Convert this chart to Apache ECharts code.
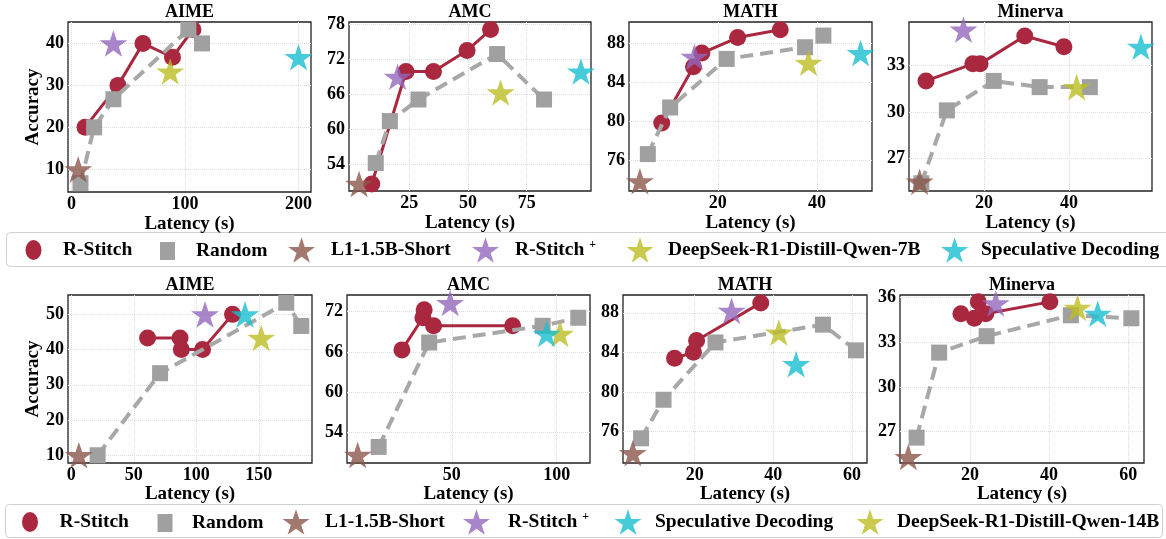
<!DOCTYPE html>
<html><head><meta charset="utf-8">
<script src="https://cdn.jsdelivr.net/npm/echarts@6/dist/echarts.min.js"></script>
<style>html,body{margin:0;padding:0;background:#fff}#c{width:1166px;height:539px}</style>
</head><body><div id="c"></div><script>
// ---------- DATA ----------
const panelTitles = ['AIME', 'AMC', 'MATH', 'Minerva', 'AIME', 'AMC', 'MATH', 'Minerva'];

// R-Stitch (latency, accuracy)
const rstitch = [
  [[12,20],[41,30],[63,40],[89,36.7],[107,43.3]],
  [[9,50.6],[23.6,69.9],[35.3,69.9],[49.6,73.5],[59.6,77.1]],
  [[8.7,79.8],[15.1,85.6],[16.8,87.0],[24.0,88.6],[32.6,89.4]],
  [[6.4,32.0],[17.4,33.1],[19.1,33.1],[29.6,34.9],[38.8,34.2]],
  [[61,43.3],[87,43.3],[88,40],[105,40],[129,50]],
  [[26.2,66.3],[36.2,71.1],[36.8,72.3],[41.3,69.9],[79,69.9]],
  [[14.9,83.4],[19.7,84.0],[20.5,85.2],[36.8,89.0]],
  [[17.7,34.9],[21.1,34.6],[22.1,35.7],[24.0,34.9],[40.2,35.7]]
];
// Random
const randomPts = [
  [[8,6.7],[20,20],[37,26.7],[103,43.3],[115,40]],
  [[10.7,54.2],[16.7,61.4],[28.9,65.1],[62.4,72.9],[82.4,65.1]],
  [[5.9,76.6],[10.4,81.4],[21.8,86.4],[37.6,87.6],[41.3,88.8]],
  [[5.3,25.4],[11.3,30.1],[22.3,32.0],[33.1,31.6],[44.9,31.6]],
  [[21,10],[71,33.3],[172,53.3],[184,46.7]],
  [[15.1,51.8],[39.2,67.4],[93.3,69.9],[110.3,71.1]],
  [[6.4,75.3],[12.1,79.2],[25.3,85.0],[52.6,86.8],[61.0,84.2]],
  [[6.5,26.6],[12.2,32.3],[24.2,33.4],[45.5,34.8],[60.8,34.6]]
];
const l1Short = [[6,10],[3.6,50.6],[4.3,73.8],[4.9,25.5],[6,10],[5.1,50.6],[4.3,73.8],[4.4,25.3]];
const rstitchPlus = [[37,40],[20,69.0],[15.3,86.6],[15.2,35.3],[107,50],[49.2,73.3],[29.4,88.2],[26.5,35.6]];
const deepseek = [[87,33.3],[63.9,66.3],[38.3,86.0],[41.8,31.6],[152,43.3],[101.6,68.7],[41.4,86.0],[47.2,35.3]];
const specDec = [[200,36.7],[98.1,69.9],[48.8,87.0],[56.9,34.2],[139,50],[95.2,68.7],[45.8,82.8],[52.3,34.9]];

// tick labels
const xTicks = [[0,100,200],[25,50,75],[20,40],[20,40],[0,50,100,150],[50,100],[20,40,60],[20,40,60]];
const yTicks = [[10,20,30,40],[54,60,66,72,78],[76,80,84,88],[27,30,33],[10,20,30,40,50],[54,60,66,72],[76,80,84,88],[27,30,33,36]];
const xRange = [[-3,211],[-0.7,102.4],[2.1,51.1],[2.4,59.5],[-2.7,192.6],[0,115.9],[1.8,63.8],[2.3,64]];
const yRange = [[4.6,45.1],[49.4,78.4],[72.8,90.2],[24.9,35.8],[7.8,55.5],[49.4,74.5],[72.8,89.8],[24.9,36.16]];

const legendTop = ['R-Stitch','Random','L1-1.5B-Short','R-Stitch+','DeepSeek-R1-Distill-Qwen-7B','Speculative Decoding'];
const legendBottom = ['R-Stitch','Random','L1-1.5B-Short','R-Stitch+','Speculative Decoding','DeepSeek-R1-Distill-Qwen-14B'];

// ---------- STYLE / LAYOUT ----------
const FONT = 'Liberation Serif';
const RED = '#a9283f', GRAY = '#a0a0a0', BROWN = '#8c564b', PURPLE = '#9467bd', OLIVE = '#bcbd22', CYAN = '#17becf';
const grids = [
  {left:68, top:22, width:243, height:170},
  {left:349, top:22, width:242, height:169},
  {left:629, top:22, width:243, height:169},
  {left:909, top:22, width:243, height:169},
  {left:68, top:295, width:244, height:168},
  {left:347, top:295, width:243, height:168},
  {left:623, top:295, width:244, height:168},
  {left:900, top:295, width:244, height:168}
];
// legend icon centres (x) and text starts for each row, and row centre (y)
const legendTopX = [33.5, 167.5, 301.6, 485.5, 640, 954.6];
const legendTopText = [63, 196, 331, 515, 668, 981];
const legendBottomX = [30, 165, 296, 476.5, 628, 870];
const legendBottomText = [59.6, 192, 325, 508, 655, 897];
const legendTopY = 250, legendBottomY = 522;

function starPath() {
  const pts = [];
  for (let i = 0; i < 10; i++) {
    const r = (i % 2) ? 0.382 : 1;
    const a = -Math.PI / 2 + i * Math.PI / 5;
    pts.push([(r * Math.cos(a) + 1) * 50, (r * Math.sin(a) + 1) * 50]);
  }
  return 'path://M' + pts.map(p => p[0].toFixed(2) + ',' + p[1].toFixed(2)).join(' L') + ' Z';
}
const STAR = starPath();
const ELLIPSE = 'path://M8,0 A8,10 0 1,1 8,20 A8,10 0 1,1 8,0 Z';
const RECT = 'path://M0,0 L15,0 L15,18 L0,18 Z';

const iconFor = {
  'R-Stitch': [ELLIPSE, 16, 20], 'Random': [RECT, 15, 18],
  'L1-1.5B-Short': [STAR, 27, 25.7], 'R-Stitch+': [STAR, 27, 25.7],
  'DeepSeek-R1-Distill-Qwen-7B': [STAR, 27, 25.7], 'DeepSeek-R1-Distill-Qwen-14B': [STAR, 27, 25.7],
  'Speculative Decoding': [STAR, 27, 25.7]
};

const grid = [], xAxis = [], yAxis = [], series = [], title = [];
for (let i = 0; i < 8; i++) {
  const g = grids[i];
  grid.push(Object.assign({show:true, borderColor:'#222', borderWidth:1.3, backgroundColor:'#fff', containLabel:false}, g));
  const top = i < 4;
  xAxis.push({
    type:'value', gridIndex:i, min:xRange[i][0], max:xRange[i][1],
    axisLine:{show:false}, axisTick:{show:false, customValues:xTicks[i]},
    axisLabel:{customValues:xTicks[i], margin:3, fontFamily:FONT, fontWeight:'bold', fontSize:18, color:'#000'},
    splitLine:{show:true, lineStyle:{color:'#dcdcdc', type:'dotted', width:1}},
    name:'Latency (s)', nameLocation:'middle', nameGap:top ? 23 : 22,
    nameTextStyle:{fontFamily:FONT, fontWeight:'bold', fontSize:19, color:'#000'}
  });
  yAxis.push({
    type:'value', gridIndex:i, min:yRange[i][0], max:yRange[i][1],
    axisLine:{show:false}, axisTick:{show:false, customValues:yTicks[i]},
    axisLabel:{customValues:yTicks[i], margin:4, fontFamily:FONT, fontWeight:'bold', fontSize:18, color:'#000'},
    splitLine:{show:true, lineStyle:{color:'#dcdcdc', type:'dotted', width:1}},
    name:(i === 0 || i === 4) ? 'Accuracy' : '', nameLocation:'middle', nameGap:top ? 23 : 21, nameRotate:90,
    nameTextStyle:{fontFamily:FONT, fontWeight:'bold', fontSize:19, color:'#000'}
  });
  title.push({
    text:panelTitles[i], left:g.left + g.width / 2, top:top ? 3 : 276, textAlign:'center', padding:0,
    textStyle:{fontFamily:FONT, fontWeight:'bold', fontSize:18, color:'#000'}
  });
  series.push({
    name:'R-Stitch', type:'line', xAxisIndex:i, yAxisIndex:i, data:rstitch[i],
    symbol:'circle', symbolSize:17, itemStyle:{color:RED}, lineStyle:{color:RED, width:3}, z:2
  });
  series.push({
    name:'Random', type:'line', xAxisIndex:i, yAxisIndex:i, data:randomPts[i],
    symbol:'rect', symbolSize:16, itemStyle:{color:GRAY}, lineStyle:{color:'#a8a8a8', width:4, type:[13,7]}, z:3
  });
  const starSeries = (name, color, d) => ({
    name, type:'scatter', xAxisIndex:i, yAxisIndex:i, data:[d], symbol:STAR, symbolKeepAspect:true,
    symbolSize:28, itemStyle:{color}, z:4, clip:false
  });
  series.push(starSeries('L1-1.5B-Short', BROWN, l1Short[i]));
  series.push(starSeries('R-Stitch+', PURPLE, rstitchPlus[i]));
  series.push(starSeries(top ? 'DeepSeek-R1-Distill-Qwen-7B' : 'DeepSeek-R1-Distill-Qwen-14B', OLIVE, deepseek[i]));
  series.push(starSeries('Speculative Decoding', CYAN, specDec[i]));
}

const legend = [];
function addLegendRow(names, xs, txs, cy) {
  names.forEach((n, k) => {
    const [icon, w, h] = iconFor[n];
    const left = xs[k] - w / 2;
    const gap = Math.max(0, txs[k] - (left + w + 5));
    legend.push({
      data:[{name:n, icon}], left, top:cy - h / 2, orient:'horizontal',
      itemWidth:w, itemHeight:h, padding:0, selectedMode:false,
      textStyle:{
        fontFamily:FONT, fontWeight:'bold', fontSize:19.5, color:'#000',
        rich:{
          g:{width:gap, fontSize:19.5},
          t:{fontFamily:FONT, fontWeight:'bold', fontSize:19.5, color:'#000'},
          sup:{fontFamily:FONT, fontWeight:'bold', fontSize:12, color:'#000', verticalAlign:'top', padding:[0,0,10,0]}
        }
      },
      formatter:nm => nm === 'R-Stitch+' ? '{g| }{t|R-Stitch }{sup|+}' : '{g| }{t|' + nm + '}'
    });
  });
}
addLegendRow(legendTop, legendTopX, legendTopText, legendTopY);
addLegendRow(legendBottom, legendBottomX, legendBottomText, legendBottomY);

const chart = echarts.init(document.getElementById('c'), null, {renderer:'canvas'});
chart.setOption({
  animation:false, backgroundColor:'#fff',
  title, grid, xAxis, yAxis, series, legend,
  graphic:[
    {type:'rect', shape:{x:6.5, y:232.5, width:1175, height:34, r:4}, style:{fill:'#fff', stroke:'#d0d0d0', lineWidth:1}, z:-10},
    {type:'rect', shape:{x:5.5, y:504.5, width:1157, height:33, r:4}, style:{fill:'#fff', stroke:'#d0d0d0', lineWidth:1}, z:-10}
  ]
});
</script></body></html>
